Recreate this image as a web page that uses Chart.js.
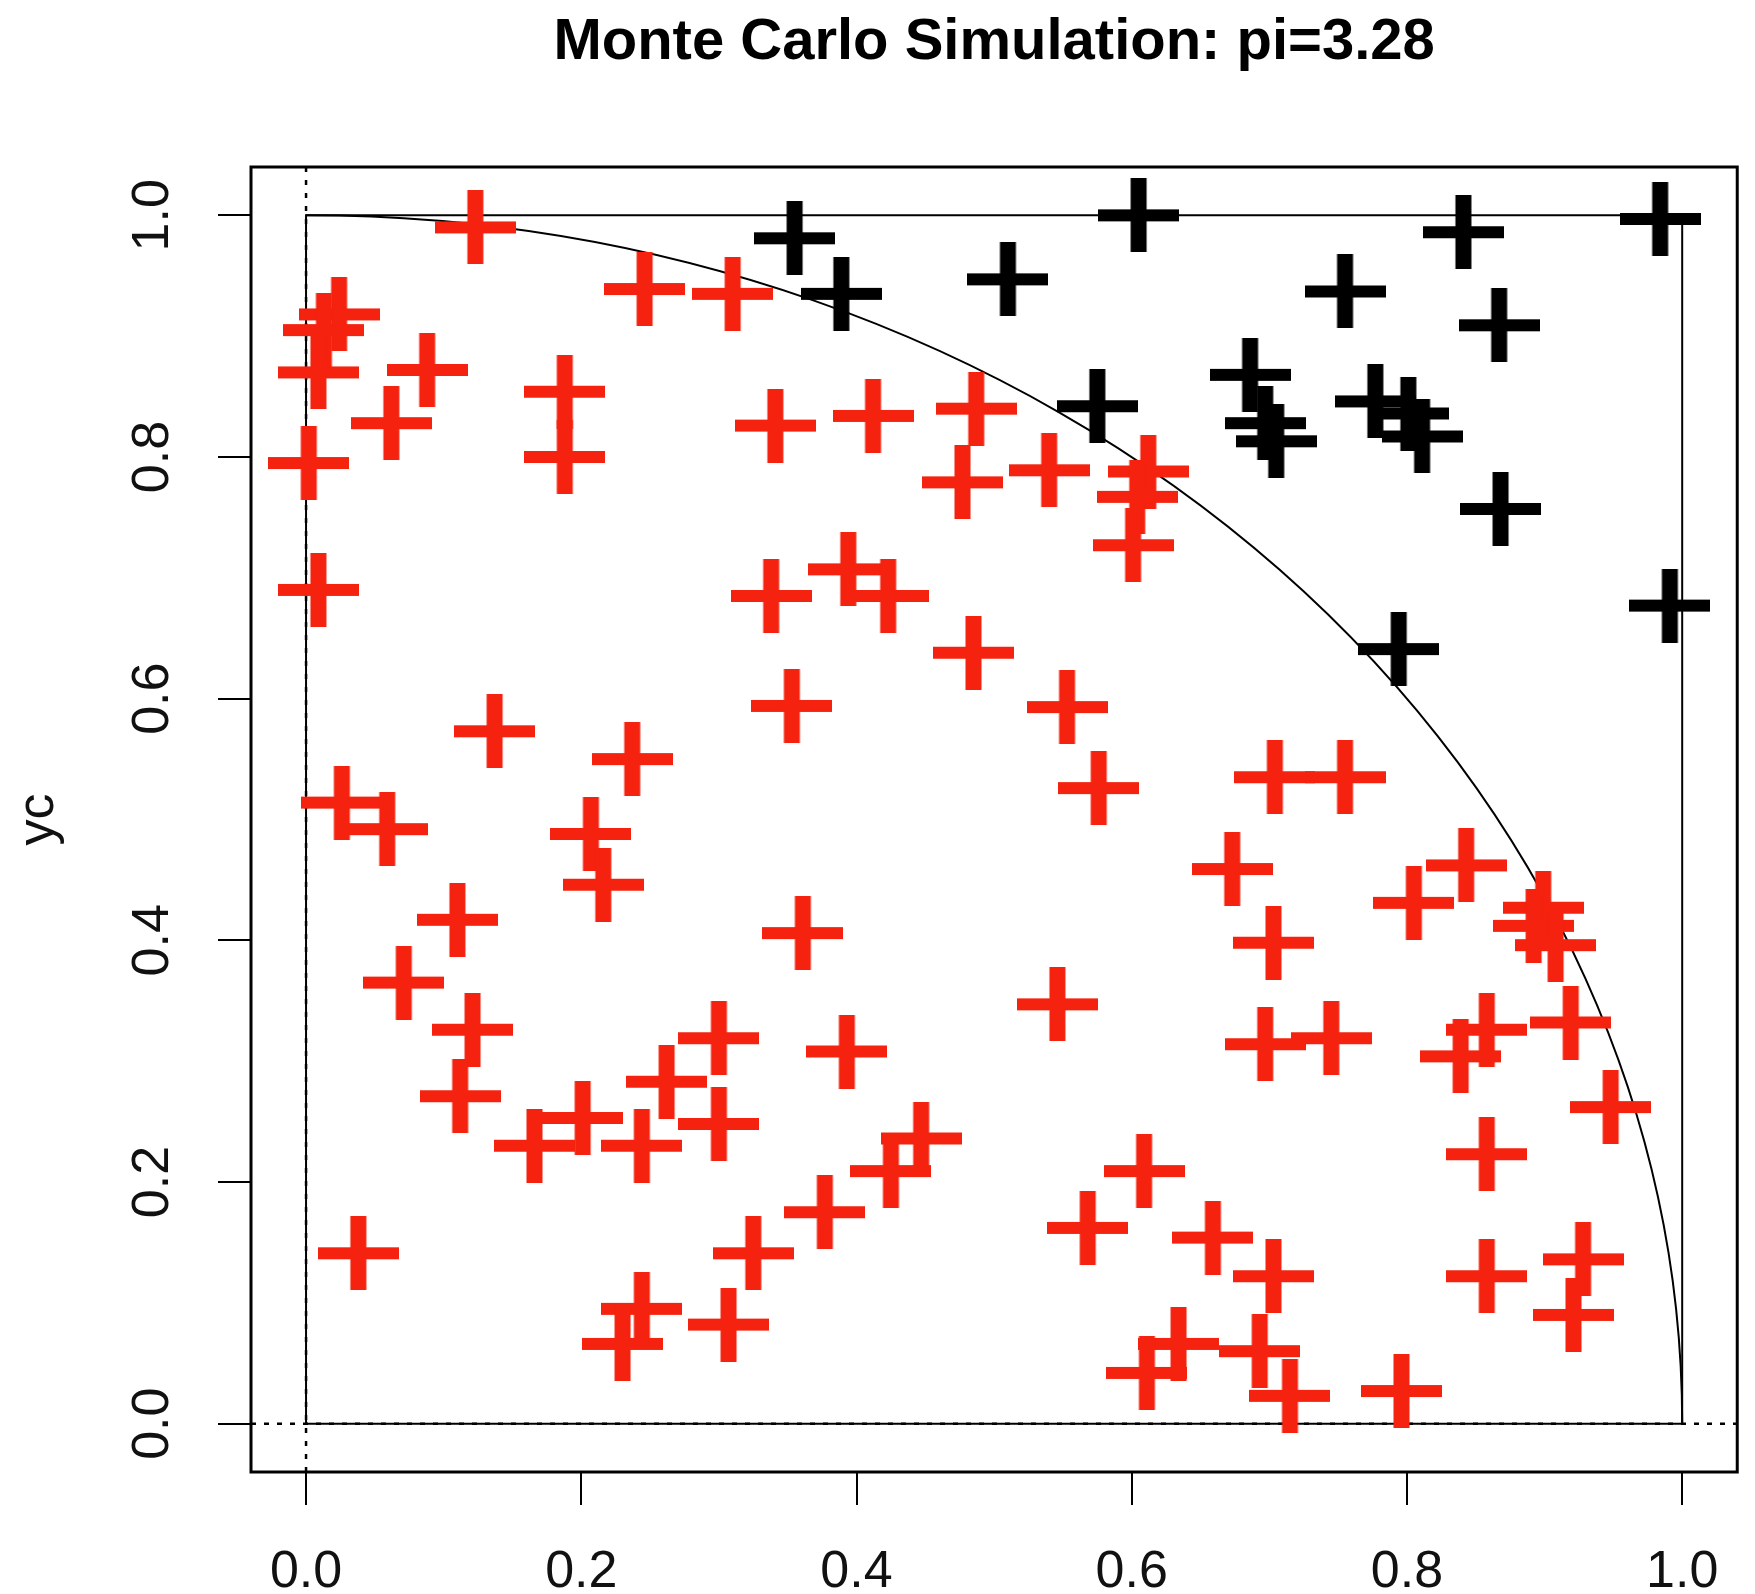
<!DOCTYPE html>
<html>
<head>
<meta charset="utf-8">
<script src="https://cdn.jsdelivr.net/npm/chart.js@4.4.1/dist/chart.umd.min.js"></script>
<style>
  html, body { margin: 0; padding: 0; background: #ffffff; }
  #wrap { width: 1755px; height: 1594px; position: relative; }
</style>
</head>
<body>
<div id="wrap"><canvas id="c"></canvas></div>
<script>
// ---------- data ----------
const TITLE = 'Monte Carlo Simulation: pi=3.28';
const Y_LABEL = 'yc';
const TICK_VALUES = [0, 0.2, 0.4, 0.6, 0.8, 1.0];
const TICK_LABELS = ['0.0', '0.2', '0.4', '0.6', '0.8', '1.0'];
const AXIS_RANGE = [-0.04, 1.04];

// points inside the quarter circle (red)
const insideX = [0.123,0.246,0.310,0.024,0.013,0.009,0.088,0.062,0.002,0.188,0.188,0.009,0.137,0.237,0.026,0.059,0.207,
  0.341,0.412,0.487,0.477,0.540,0.612,0.604,0.601,0.338,0.394,0.423,0.485,0.353,0.553,0.576,
  0.704,0.755,
  0.216,0.110,0.071,0.121,0.112,0.166,0.201,0.244,0.262,0.300,0.300,0.038,0.244,0.230,0.307,
  0.361,0.393,0.447,0.425,0.377,0.325,0.546,0.673,0.609,0.568,0.659,0.634,0.611,
  0.703,0.697,0.745,0.805,0.843,0.899,0.892,0.908,0.858,0.839,0.919,0.948,0.858,0.703,0.693,0.715,0.796,0.858,0.928,0.921];
const insideY = [0.990,0.939,0.935,0.918,0.905,0.870,0.872,0.828,0.795,0.854,0.800,0.690,0.573,0.550,0.514,0.492,0.488,
  0.826,0.834,0.840,0.779,0.789,0.788,0.767,0.727,0.685,0.707,0.685,0.638,0.594,0.593,0.526,
  0.535,0.535,
  0.446,0.417,0.365,0.326,0.271,0.230,0.253,0.230,0.283,0.319,0.248,0.141,0.095,0.066,0.082,
  0.406,0.308,0.236,0.209,0.175,0.141,0.347,0.459,0.209,0.162,0.154,0.066,0.042,
  0.398,0.314,0.319,0.431,0.462,0.427,0.412,0.396,0.326,0.304,0.332,0.262,0.223,0.122,0.060,0.023,0.027,0.122,0.136,0.090];

// points outside the quarter circle (black)
const outsideX = [0.355,0.389,0.510,0.605,0.575,0.841,0.984,0.755,0.867,0.686,0.697,0.705,0.777,0.801,0.811,0.868,0.991,0.794];
const outsideY = [0.981,0.935,0.947,1.000,0.842,0.986,0.997,0.937,0.909,0.868,0.828,0.813,0.846,0.836,0.817,0.757,0.677,0.641];

// unit square and reference lines
const SQUARE_X = [0, 1, 1, 0, 0];
const SQUARE_Y = [0, 0, 1, 1, 0];
const HREF_X = [AXIS_RANGE[0], AXIS_RANGE[1]];
const HREF_Y = [0, 0];
const VREF_X = [0, 0];
const VREF_Y = [AXIS_RANGE[0], AXIS_RANGE[1]];
// quarter circle: centre x, centre y, radius
const CIRCLE = [0, 0, 1];

// ---------- styles ----------
const NARROW = "'Liberation Sans Narrow','Arial Narrow','Liberation Sans',Arial,sans-serif";
const RED = 'rgb(244,34,14)';

function makeCross(color) {
  const W = 81, H = 74, HB = 12, VB = 16;
  const c = document.createElement('canvas');
  c.width = W; c.height = H;
  const g = c.getContext('2d');
  g.fillStyle = color;
  g.fillRect(0, (H - HB) / 2, W, HB);
  g.fillRect((W - VB) / 2, 0, VB, H);
  return c;
}
const redCross = makeCross(RED);
const blackCross = makeCross('#000000');

function pts(xs, ys) { return xs.map((x, i) => ({ x: x, y: ys[i] })); }

const framePlugin = {
  id: 'frame',
  beforeDatasetsDraw(chart) {
    const { ctx, scales: { x, y } } = chart;
    const cx = x.getPixelForValue(CIRCLE[0]);
    const cy = y.getPixelForValue(CIRCLE[1]);
    const rx = x.getPixelForValue(CIRCLE[0] + CIRCLE[2]) - cx;
    const ry = cy - y.getPixelForValue(CIRCLE[1] + CIRCLE[2]);
    ctx.save();
    ctx.beginPath();
    ctx.ellipse(cx, cy, rx, ry, 0, -Math.PI / 2, 0, false);
    ctx.strokeStyle = '#000';
    ctx.lineWidth = 2;
    ctx.stroke();
    ctx.restore();
  },
  afterDraw(chart) {
    const { ctx, chartArea: a } = chart;
    ctx.save();
    ctx.strokeStyle = '#000';
    ctx.lineWidth = 3;
    ctx.strokeRect(a.left, a.top, a.right - a.left, a.bottom - a.top);
    ctx.restore();
  }
};

const tickLabel = (v) => {
  const i = TICK_VALUES.findIndex(t => Math.abs(t - v) < 1e-9);
  return i >= 0 ? TICK_LABELS[i] : '';
};

new Chart(document.getElementById('c'), {
  type: 'scatter',
  data: {
    datasets: [
      { label: 'outside', data: pts(outsideX, outsideY), pointStyle: blackCross, pointRadius: 3, order: 0 },
      { label: 'inside', data: pts(insideX, insideY), pointStyle: redCross, pointRadius: 3, order: 1 },
      { label: 'square', data: pts(SQUARE_X, SQUARE_Y), showLine: true, borderColor: '#000', borderWidth: 2,
        pointRadius: 0, fill: false, tension: 0, order: 2 },
      { label: 'h0', data: pts(HREF_X, HREF_Y), showLine: true, borderColor: '#000', borderWidth: 2.5,
        borderDash: [5, 8], pointRadius: 0, fill: false, order: 3 },
      { label: 'v0', data: pts(VREF_X, VREF_Y), showLine: true, borderColor: '#000', borderWidth: 2.5,
        borderDash: [5, 8], pointRadius: 0, fill: false, order: 3 }
    ]
  },
  options: {
    responsive: true,
    maintainAspectRatio: false,
    animation: false,
    events: [],
    layout: { padding: { left: 0, right: 13, top: 0, bottom: 0 } },
    plugins: {
      legend: { display: false },
      tooltip: { enabled: false },
      title: {
        display: true,
        text: TITLE,
        fullSize: false,
        color: '#000',
        font: { family: "'Liberation Sans',Arial,sans-serif", size: 58, weight: 'bold' },
        padding: { top: 8, bottom: 89.4 }
      }
    },
    scales: {
      x: {
        type: 'linear',
        min: AXIS_RANGE[0],
        max: AXIS_RANGE[1],
        afterBuildTicks: (s) => { s.ticks = TICK_VALUES.map(v => ({ value: v })); },
        afterFit: (s) => { s.height = 122; },
        ticks: {
          callback: (v) => tickLabel(v),
          autoSkip: false, minRotation: 0, maxRotation: 0,
          padding: 36, color: '#111',
          font: { family: NARROW, size: 52 }
        },
        grid: { display: true, drawOnChartArea: false, drawTicks: true, tickLength: 33, color: '#000', lineWidth: 2 },
        border: { display: false }
      },
      y: {
        type: 'linear',
        min: AXIS_RANGE[0],
        max: AXIS_RANGE[1],
        afterBuildTicks: (s) => { s.ticks = TICK_VALUES.map(v => ({ value: v })); },
        afterFit: (s) => { s.width = 251; },
        ticks: {
          callback: (v) => tickLabel(v),
          autoSkip: false, minRotation: 90, maxRotation: 90,
          crossAlign: 'center',
          padding: 28.5, color: '#111',
          font: { family: NARROW, size: 52 }
        },
        title: {
          display: true, text: Y_LABEL, color: '#111',
          font: { family: NARROW, size: 52 },
          padding: { top: 7, bottom: 0 }
        },
        grid: { display: true, drawOnChartArea: false, drawTicks: true, tickLength: 33, color: '#000', lineWidth: 2 },
        border: { display: false }
      }
    }
  },
  plugins: [framePlugin]
});
</script>
</body>
</html>
